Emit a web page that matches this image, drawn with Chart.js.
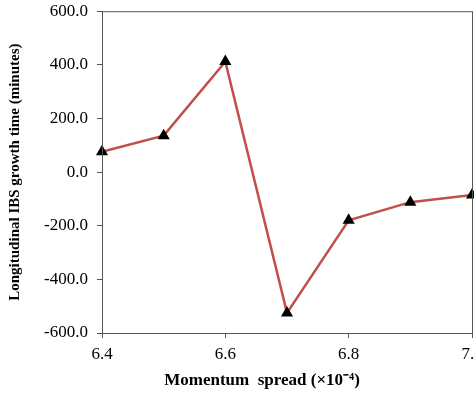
<!DOCTYPE html>
<html lang="en">
<head>
    <meta charset="UTF-8">
    <title>Longitudinal IBS growth time</title>
    <script src="https://cdn.jsdelivr.net/npm/chart.js@4.4.0/dist/chart.umd.min.js"></script>
    <style>
        html, body {
            margin: 0;
            padding: 0;
            background: white;
            overflow: hidden;
        }
        #wrap {
            width: 500px;
            height: 406px;
            margin-top: -8px;
        }
    </style>
</head>
<body>
    <div id="wrap"><canvas id="chart"></canvas></div>

    <script>
        const momentum = [6.4, 6.5, 6.6, 6.7, 6.8, 6.9, 7.0];
        const growthTime = [76, 136, 412, -525, -180, -112, -85];
        const yTicks = [-600, -400, -200, 0, 200, 400, 600];
        const xTicks = [6.4, 6.6, 6.8, 7.0];

        const axisColor = '#555';
        const serif = "'Liberation Serif', 'Times New Roman', serif";

        // frame round the plot area + x title (slightly left of centre like the original)
        const framePlugin = {
            id: 'frame',
            afterDraw(chart) {
                const { ctx, chartArea } = chart;
                ctx.save();
                ctx.strokeStyle = axisColor;
                ctx.lineWidth = 1;
                ctx.strokeRect(chartArea.left + 0.5, chartArea.top + 0.5,
                    chartArea.right - chartArea.left, chartArea.bottom - chartArea.top);
                ctx.fillStyle = '#000';
                ctx.font = 'bold 17px ' + serif;
                ctx.textAlign = 'center';
                ctx.textBaseline = 'middle';
                ctx.fillText('Momentum  spread (×10⁻⁴)', 262, chartArea.bottom + 48);
                ctx.restore();
            }
        };

        new Chart(document.getElementById('chart'), {
            type: 'scatter',
            data: {
                datasets: [{
                    data: momentum.map((x, i) => ({ x: x, y: growthTime[i] })),
                    showLine: true,
                    borderColor: '#c0504d',
                    borderWidth: 2.5,
                    pointStyle: 'triangle',
                    pointRadius: 7,
                    pointHoverRadius: 7,
                    pointBackgroundColor: '#000',
                    pointBorderColor: '#000',
                    pointBorderWidth: 0,
                    clip: false
                }]
            },
            options: {
                responsive: true,
                maintainAspectRatio: false,
                animation: false,
                layout: { padding: { top: 0, right: 28, left: 0, bottom: 0 } },
                plugins: {
                    legend: { display: false },
                    tooltip: { enabled: false }
                },
                scales: {
                    x: {
                        type: 'linear',
                        min: 6.4,
                        max: 7.0,
                        afterBuildTicks: scale => { scale.ticks = xTicks.map(v => ({ value: v })); },
                        afterFit: scale => { scale.height = 65; },
                        grid: { drawOnChartArea: false, drawTicks: true, tickLength: 5, color: axisColor },
                        border: { color: axisColor },
                        ticks: {
                            padding: 6,
                            color: '#000',
                            font: { family: serif, size: 17 },
                            callback: v => v.toFixed(1)
                        }
                    },
                    y: {
                        min: -600,
                        max: 600,
                        afterBuildTicks: scale => { scale.ticks = yTicks.map(v => ({ value: v })); },
                        afterFit: scale => { scale.width = 102; },
                        grid: { drawOnChartArea: false, drawTicks: true, tickLength: 5, color: axisColor },
                        border: { color: axisColor },
                        ticks: {
                            padding: 9,
                            color: '#000',
                            font: { family: serif, size: 17 },
                            callback: v => v.toFixed(1)
                        },
                        title: {
                            display: true,
                            text: 'Longitudinal IBS growth time (minutes)',
                            color: '#000',
                            font: { family: serif, size: 15, weight: 'bold' },
                            padding: { top: 6, bottom: 0 }
                        }
                    }
                }
            },
            plugins: [framePlugin]
        });
    </script>
</body>
</html>
